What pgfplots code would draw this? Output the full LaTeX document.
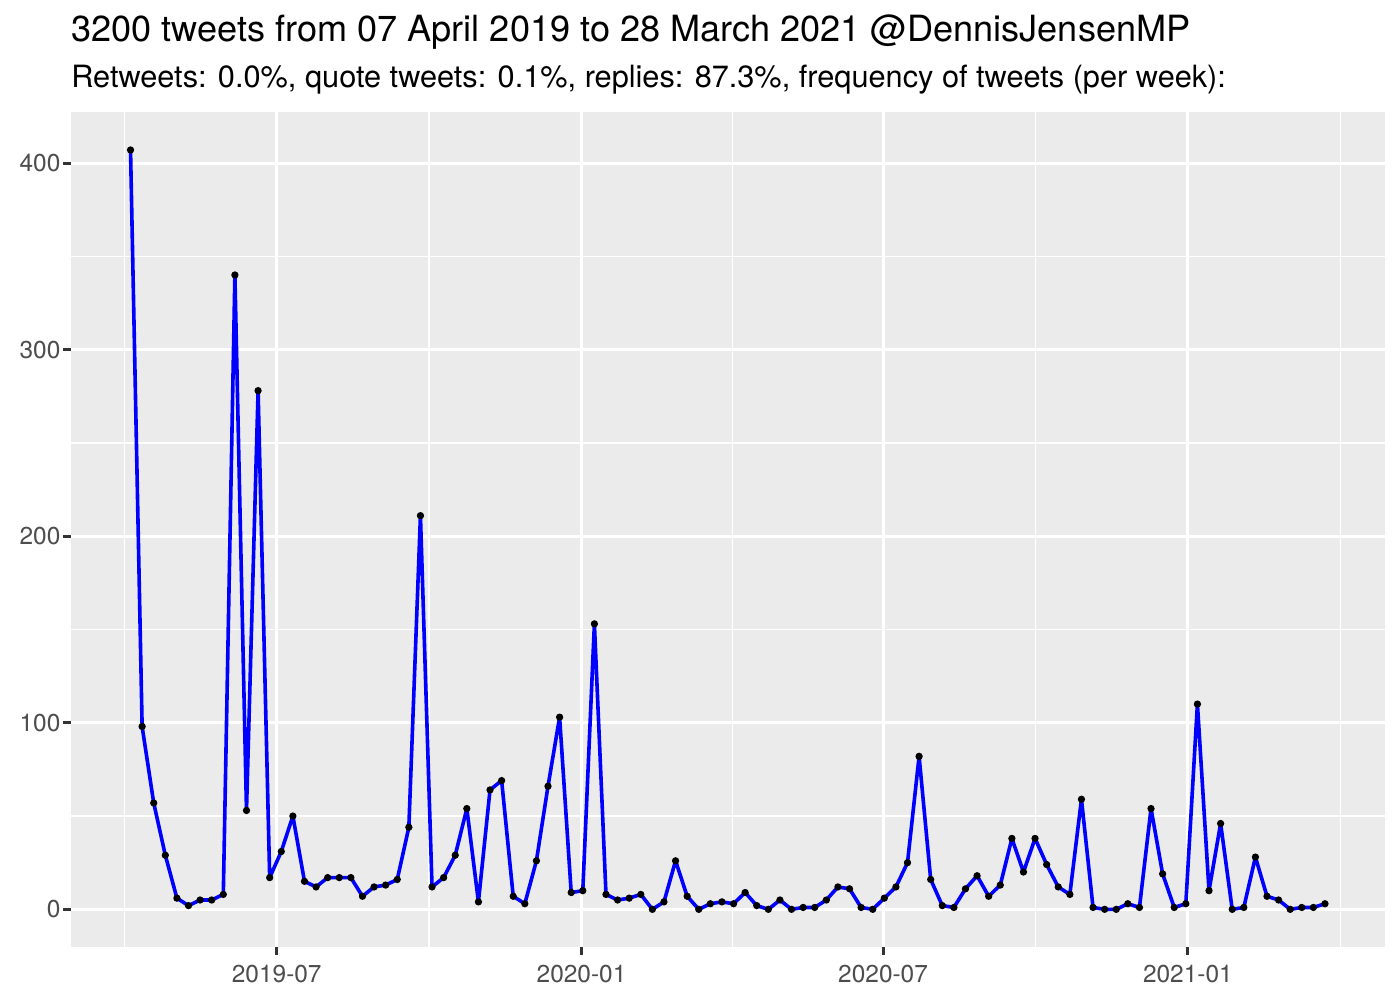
\documentclass[border=0pt]{standalone}
\usepackage{pgfplots}
\pgfplotsset{compat=1.18}
\usepackage{pgfplotstable}
\usepackage{fontspec}
\setmainfont{TeX Gyre Heros}
\definecolor{panelbg}{HTML}{EBEBEB}
\definecolor{tickc}{HTML}{333333}
\definecolor{labc}{HTML}{4D4D4D}
\pgfplotstableread{
i v
0 407
1 98
2 57
3 29
4 6
5 2
6 5
7 5
8 8
9 340
10 53
11 278
12 17
13 31
14 50
15 15
16 12
17 17
18 17
19 17
20 7
21 12
22 13
23 16
24 44
25 211
26 12
27 17
28 29
29 54
30 4
31 64
32 69
33 7
34 3
35 26
36 66
37 103
38 9
39 10
40 153
41 8
42 5
43 6
44 8
45 0
46 4
47 26
48 7
49 0
50 3
51 4
52 3
53 9
54 2
55 0
56 5
57 0
58 1
59 1
60 5
61 12
62 11
63 1
64 0
65 6
66 12
67 25
68 82
69 16
70 2
71 1
72 11
73 18
74 7
75 13
76 38
77 20
78 38
79 24
80 12
81 8
82 59
83 1
84 0
85 0
86 3
87 1
88 54
89 19
90 1
91 3
92 110
93 10
94 46
95 0
96 1
97 28
98 7
99 5
100 0
101 1
102 1
103 3
}\weekly
\begin{document}
\begin{tikzpicture}
\useasboundingbox (0,0) rectangle (504bp,360bp);
\begin{axis}[
  at={(25.49bp,18.97bp)}, anchor=south west,
  scale only axis, width=473.0bp, height=300.7bp,
  xmin=-5.15, xmax=108.15, ymin=-20.35, ymax=427.35,
  axis background/.style={fill=panelbg},
  axis line style={draw=none},
  xtick={12.6071,38.8929,64.8929,91.1786},
  xticklabels={2019-07,2020-01,2020-07,2021-01},
  minor xtick={-0.5357,25.75,51.8929,78.0357,104.3214},
  ytick={0,100,200,300,400},
  minor ytick={50,150,250,350},
  xtick pos=bottom, ytick pos=left,
  grid=both,
  major grid style={white, line width=1.07bp},
  minor grid style={white, line width=0.53bp},
  tick align=outside,
  major tick length=2.74bp,
  minor tick length=0pt,
  tick style={color=tickc, line width=1.07bp},
  ticklabel style={font=\fontsize{8.8bp}{10bp}\selectfont, text=labc},
  yticklabel style={xshift=2.5bp},
  /pgf/number format/assume math mode=true,
  clip=false,
]
\addplot[only marks, mark=*, mark size=1.1bp, black] table[x=i, y=v] {\weekly};
\addplot[color={rgb,255:red,0;green,0;blue,255}, line width=1.3bp, line join=round, no marks] table[x=i, y=v] {\weekly};
\end{axis}
\node[anchor=base west, inner sep=0pt, font=\fontsize{13.0bp}{15bp}\selectfont] at (25.5bp,345.0bp) {3200 tweets from 07 April 2019 to 28 March 2021 @DennisJensenMP};
\node[anchor=base west, inner sep=0pt, font=\fontsize{11.05bp}{13bp}\selectfont] at (25.5bp,328.6bp) {Retweets: 0.0\%, quote tweets: 0.1\%, replies: 87.3\%, frequency of tweets (per week):};
\end{tikzpicture}
\end{document}
